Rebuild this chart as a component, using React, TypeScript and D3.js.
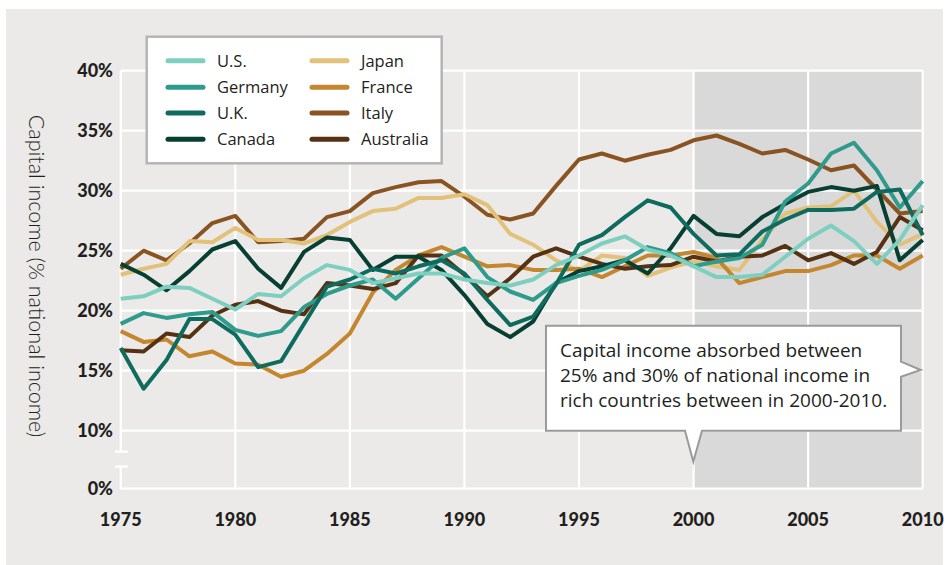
import { useEffect, useRef } from "react";
import * as d3 from "d3";

const years = d3.range(1975, 2011);
const xTicks = [1975, 1980, 1985, 1990, 1995, 2000, 2005, 2010];
const yTicks = [0, 10, 15, 20, 25, 30, 35, 40];
const gridY = [10, 15, 20, 25, 30, 35, 40];

const us = [21.0, 21.2, 22.0, 21.9, 21.0, 20.1, 21.4, 21.2, 22.7, 23.8, 23.4, 22.3, 22.7, 23.1, 23.1, 22.6, 22.3, 22.1, 22.6, 23.8, 24.6, 25.6, 26.2, 25.1, 24.6, 23.7, 22.8, 22.8, 23.0, 24.5, 26.0, 27.1, 25.8, 23.9, 25.9, 28.8];
const germany = [18.9, 19.8, 19.4, 19.7, 19.9, 18.4, 17.9, 18.3, 20.3, 21.4, 22.1, 22.6, 21.0, 22.7, 24.4, 25.2, 22.8, 21.6, 20.9, 22.3, 22.9, 23.4, 24.2, 25.3, 24.8, 23.7, 24.1, 24.4, 25.5, 29.1, 30.6, 33.1, 34.0, 31.7, 28.6, 30.8];
const uk = [16.9, 13.5, 15.9, 19.3, 19.3, 18.0, 15.3, 15.8, 18.9, 22.0, 22.6, 23.5, 23.1, 23.7, 24.2, 23.1, 20.9, 18.8, 19.5, 22.2, 25.5, 26.3, 27.8, 29.2, 28.6, 26.4, 24.6, 24.7, 26.6, 27.6, 28.4, 28.4, 28.5, 29.9, 30.1, 26.3];
const canada = [23.9, 23.0, 21.7, 23.3, 25.1, 25.8, 23.5, 21.9, 24.9, 26.1, 25.9, 23.4, 24.5, 24.5, 23.4, 21.3, 18.9, 17.8, 19.1, 22.3, 23.3, 23.7, 24.2, 23.1, 25.2, 27.9, 26.4, 26.2, 27.8, 28.9, 29.9, 30.3, 30.0, 30.4, 24.2, 25.9];
const japan = [23.0, 23.5, 23.9, 25.8, 25.7, 26.9, 25.9, 25.9, 25.6, 26.3, 27.4, 28.3, 28.5, 29.4, 29.4, 29.7, 28.8, 26.4, 25.5, 24.2, 23.3, 24.6, 24.4, 22.9, 23.6, 24.1, 23.7, 23.4, 25.9, 28.1, 28.6, 28.7, 30.0, 27.4, 25.5, 26.4];
const france = [18.3, 17.4, 17.6, 16.2, 16.6, 15.6, 15.5, 14.5, 15.0, 16.4, 18.1, 21.5, 23.4, 24.6, 25.3, 24.5, 23.7, 23.8, 23.4, 23.4, 23.5, 22.8, 23.7, 24.6, 24.6, 24.9, 24.4, 22.3, 22.8, 23.3, 23.3, 23.8, 24.6, 24.6, 23.5, 24.6];
const italy = [23.5, 25.0, 24.2, 25.6, 27.3, 27.9, 25.7, 25.8, 26.0, 27.8, 28.3, 29.8, 30.3, 30.7, 30.8, 29.5, 28.0, 27.6, 28.1, 30.4, 32.6, 33.1, 32.5, 33.0, 33.4, 34.2, 34.6, 33.9, 33.1, 33.4, 32.6, 31.7, 32.1, 30.1, 28.1, 28.3];
const australia = [16.7, 16.6, 18.1, 17.8, 19.6, 20.5, 20.8, 20.0, 19.7, 22.3, 22.1, 21.8, 22.3, 24.6, 24.6, 23.0, 21.2, 22.7, 24.5, 25.2, 24.5, 23.9, 23.5, 23.7, 23.8, 24.5, 24.1, 24.5, 24.6, 25.4, 24.2, 24.8, 23.9, 24.9, 27.8, 26.7];

const legendLeft = ["U.S.", "Germany", "U.K.", "Canada"];
const legendRight = ["Japan", "France", "Italy", "Australia"];
const calloutLines = [
  "Capital income absorbed between",
  "25% and 30% of national income in",
  "rich countries between in 2000-2010.",
];

const colors: Record<string, string> = {
  "U.S.": "#7fcfc0",
  Germany: "#2f9b8d",
  "U.K.": "#0f6b5e",
  Canada: "#073f32",
  Japan: "#e2c17a",
  France: "#c4862e",
  Italy: "#8a5422",
  Australia: "#553213",
};

// drawing order (last on top)
const series: [string, number[]][] = [
  ["Italy", italy],
  ["Japan", japan],
  ["France", france],
  ["Australia", australia],
  ["Canada", canada],
  ["Germany", germany],
  ["U.K.", uk],
  ["U.S.", us],
];

const App = () => {
  const svgRef = useRef<SVGSVGElement>(null);

  useEffect(() => {
    const svg = d3.select(svgRef.current);
    svg.selectAll("*").remove();

    const x = d3.scaleLinear().domain([1975, 2010]).range([120.7, 922.7]);
    // broken axis: 0 sits just below the 10% line
    const y = d3.scaleLinear().domain([0, 10, 40]).range([488.7, 430.7, 70.7]);

    svg.append("rect")
      .attr("x", 6).attr("y", 9).attr("width", 937).attr("height", 556)
      .attr("fill", "#ebeae8");

    // shaded 2000-2010
    svg.append("rect")
      .attr("x", x(2000)).attr("y", y(40))
      .attr("width", x(2010) - x(2000)).attr("height", y(0) - y(40))
      .attr("fill", "#d9d9d9");

    const grid = svg.append("g").attr("stroke", "#fff").attr("stroke-width", 2.2);
    grid.selectAll(".gy").data(gridY).join("line")
      .attr("x1", x(1975)).attr("x2", x(2010))
      .attr("y1", d => y(d)).attr("y2", d => y(d));
    grid.selectAll(".gx").data(xTicks.slice(1)).join("line")
      .attr("x1", d => x(d)).attr("x2", d => x(d))
      .attr("y1", y(40)).attr("y2", y(0));
    grid.append("line")
      .attr("x1", x(1975)).attr("x2", x(2010))
      .attr("y1", y(0)).attr("y2", y(0));
    // left axis with break
    grid.append("path")
      .attr("fill", "none")
      .attr("d", `M${x(1975)},${y(40)}V451.7M115,451.7H128M115,466.7H128M${x(1975)},466.7V${y(0)}`);

    const line = d3.line<number>()
      .x((d, i) => x(years[i]))
      .y(d => y(d));

    svg.append("g").selectAll("path").data(series).join("path")
      .attr("d", d => line(d[1]))
      .attr("fill", "none")
      .attr("stroke", d => colors[d[0]])
      .attr("stroke-width", 4)
      .attr("stroke-linejoin", "round");

    // tick labels
    svg.append("g").selectAll("text").data(yTicks).join("text")
      .attr("x", 113).attr("y", d => y(d))
      .attr("dy", "0.36em")
      .attr("text-anchor", "end")
      .attr("font-family", "Lato, sans-serif")
      .attr("font-weight", 900)
      .attr("font-size", 18)
      .attr("fill", "#231f20")
      .text(d => `${d}%`);

    svg.append("g").selectAll("text").data(xTicks).join("text")
      .attr("x", d => x(d)).attr("y", 526)
      .attr("text-anchor", "middle")
      .attr("font-family", "Lato, sans-serif")
      .attr("font-weight", 900)
      .attr("font-size", 18)
      .attr("fill", "#231f20")
      .text(d => d);

    svg.append("text")
      .attr("transform", "translate(37,276) rotate(90)")
      .attr("text-anchor", "middle")
      .attr("dy", "0.35em")
      .attr("font-family", "Lato, sans-serif")
      .attr("font-weight", 300)
      .attr("font-size", 21.5)
      .attr("fill", "#231f20")
      .text("Capital income (% national income)");

    // legend
    const lg = svg.append("g");
    lg.append("rect")
      .attr("x", 146.7).attr("y", 36.7).attr("width", 295).attr("height", 126.6)
      .attr("fill", "#fff").attr("stroke", "#b5b5b5").attr("stroke-width", 2.5);
    const rows = [60.7, 87.2, 113, 139.3];
    const cols: [string[], number][] = [[legendLeft, 166], [legendRight, 310]];
    cols.forEach(([names, cx]) => {
      names.forEach((n, i) => {
        lg.append("line")
          .attr("x1", cx + 2).attr("x2", cx + 37)
          .attr("y1", rows[i]).attr("y2", rows[i])
          .attr("stroke", colors[n]).attr("stroke-width", 5)
          .attr("stroke-linecap", "round");
        lg.append("text")
          .attr("x", cx + 51).attr("y", rows[i])
          .attr("dy", "0.36em")
          .attr("font-family", "'Open Sans', sans-serif")
          .attr("font-size", 16.5)
          .attr("fill", "#231f20")
          .text(n);
      });
    });

    // callout
    const co = svg.append("g");
    co.append("path")
      .attr("d", "M546,325.7H901V361.7L920.7,370L901,376.7V430.7H702L693.3,461.7L685,430.7H546Z")
      .attr("fill", "#fff").attr("stroke", "#9a9a9a").attr("stroke-width", 2);
    co.selectAll("text").data(calloutLines).join("text")
      .attr("x", 560).attr("y", (d, i) => 357 + i * 25)
      .attr("font-family", "'Open Sans', sans-serif")
      .attr("font-size", 19)
      .attr("fill", "#231f20")
      .text(d => d);
  }, []);

  return (
    <svg ref={svgRef} width={949} height={565}
      style={{ position: "absolute", left: 0, top: 0, background: "#fff" }} />
  );
};

export default App;
